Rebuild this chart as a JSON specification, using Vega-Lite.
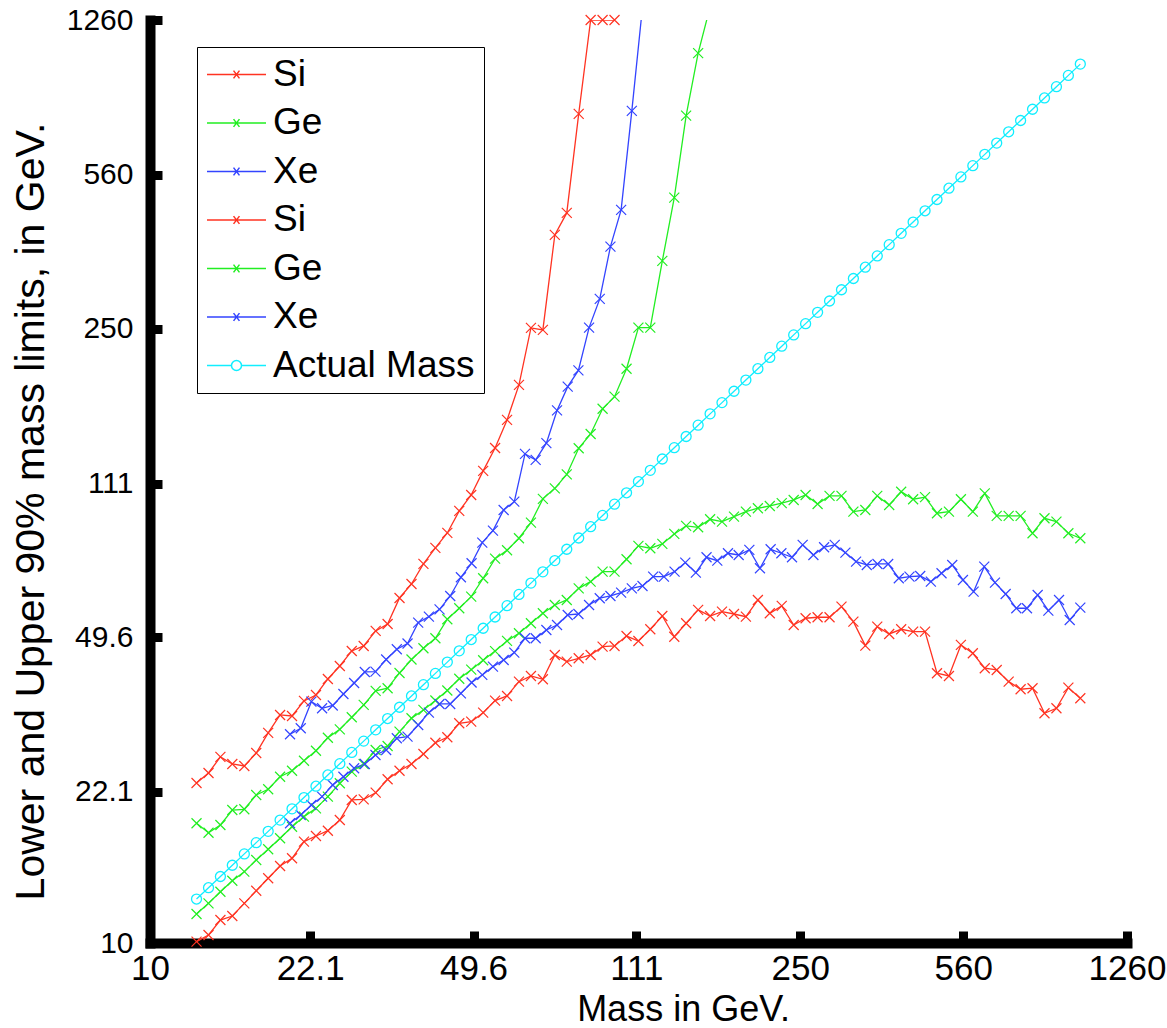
{
"$schema": "https://vega.github.io/schema/vega-lite/v6.json",
"width": 977, "height": 923,
"autosize": {"type": "none"},
"padding": {"left": 150, "top": 20, "right": 40, "bottom": 85},
"background": "white",
"config": {"view": {"stroke": null}, "font": "Liberation Sans"},
"datasets": {"d": [
{"s":"Si-1","m":12.59,"v":23.13},{"s":"Si-1","m":13.36,"v":24.37},{"s":"Si-1","m":14.17,"v":26.51},{"s":"Si-1","m":15.03,"v":25.55},{"s":"Si-1","m":15.95,"v":25.28},{"s":"Si-1","m":16.92,"v":27.06},{"s":"Si-1","m":17.95,"v":30.06},{"s":"Si-1","m":19.04,"v":33.03},{"s":"Si-1","m":20.2,"v":32.86},{"s":"Si-1","m":21.43,"v":35.55},
{"s":"Si-1","m":22.74,"v":36.68},{"s":"Si-1","m":24.12,"v":39.89},{"s":"Si-1","m":25.59,"v":42.7},{"s":"Si-1","m":27.15,"v":46.19},{"s":"Si-1","m":28.8,"v":47.42},{"s":"Si-1","m":30.56,"v":51.3},{"s":"Si-1","m":32.42,"v":53.21},{"s":"Si-1","m":34.39,"v":60.98},{"s":"Si-1","m":36.49,"v":65.61},{"s":"Si-1","m":38.71,"v":72.88},
{"s":"Si-1","m":41.07,"v":79.25},{"s":"Si-1","m":43.57,"v":85.73},{"s":"Si-1","m":46.22,"v":96.2},{"s":"Si-1","m":49.04,"v":104.6},{"s":"Si-1","m":52.03,"v":118.7},{"s":"Si-1","m":55.19,"v":133.8},{"s":"Si-1","m":58.56,"v":155},{"s":"Si-1","m":62.12,"v":186.2},{"s":"Si-1","m":65.91,"v":251},{"s":"Si-1","m":69.92,"v":248.4},
{"s":"Si-1","m":74.18,"v":408.7},{"s":"Si-1","m":78.7,"v":458.5},{"s":"Si-1","m":83.49,"v":770.3},{"s":"Si-1","m":88.57,"v":1260},{"s":"Si-1","m":93.97,"v":1260},{"s":"Si-1","m":99.69,"v":1260},

{"s":"Ge-1","m":12.59,"v":18.73},{"s":"Ge-1","m":13.36,"v":17.82},{"s":"Ge-1","m":14.17,"v":18.56},{"s":"Ge-1","m":15.03,"v":20.07},{"s":"Ge-1","m":15.95,"v":20.15},{"s":"Ge-1","m":16.92,"v":21.72},{"s":"Ge-1","m":17.95,"v":22.38},{"s":"Ge-1","m":19.04,"v":23.9},{"s":"Ge-1","m":20.2,"v":24.66},{"s":"Ge-1","m":21.43,"v":25.99},
{"s":"Ge-1","m":22.74,"v":27.39},{"s":"Ge-1","m":24.12,"v":29.32},{"s":"Ge-1","m":25.59,"v":30.64},{"s":"Ge-1","m":27.15,"v":32.64},{"s":"Ge-1","m":28.8,"v":34.81},{"s":"Ge-1","m":30.56,"v":37.46},{"s":"Ge-1","m":32.42,"v":38},{"s":"Ge-1","m":34.39,"v":41.16},{"s":"Ge-1","m":36.49,"v":44.18},{"s":"Ge-1","m":38.71,"v":46.86},
{"s":"Ge-1","m":41.07,"v":49.37},{"s":"Ge-1","m":43.57,"v":54.54},{"s":"Ge-1","m":46.22,"v":57.77},{"s":"Ge-1","m":49.04,"v":61.4},{"s":"Ge-1","m":52.03,"v":67.61},{"s":"Ge-1","m":55.19,"v":74.91},{"s":"Ge-1","m":58.56,"v":78.29},{"s":"Ge-1","m":62.12,"v":83.37},{"s":"Ge-1","m":65.91,"v":90.49},{"s":"Ge-1","m":69.92,"v":102.5},
{"s":"Ge-1","m":74.18,"v":108.3},{"s":"Ge-1","m":78.7,"v":116.5},{"s":"Ge-1","m":83.49,"v":133.6},{"s":"Ge-1","m":88.57,"v":144},{"s":"Ge-1","m":93.97,"v":164.3},{"s":"Ge-1","m":99.69,"v":175.1},{"s":"Ge-1","m":105.8,"v":202.7},{"s":"Ge-1","m":112.2,"v":251.4},{"s":"Ge-1","m":119,"v":251.4},{"s":"Ge-1","m":126.3,"v":356.6},
{"s":"Ge-1","m":134,"v":496.9},{"s":"Ge-1","m":142.1,"v":763.4},{"s":"Ge-1","m":150.8,"v":1059},{"s":"Ge-1","m":160,"v":1350},

{"s":"Xe-1","m":20,"v":29.85},{"s":"Xe-1","m":21.09,"v":30.81},{"s":"Xe-1","m":22.23,"v":35.41},{"s":"Xe-1","m":23.44,"v":34.21},{"s":"Xe-1","m":24.71,"v":34.71},{"s":"Xe-1","m":26.05,"v":36.87},{"s":"Xe-1","m":27.47,"v":39.06},{"s":"Xe-1","m":28.96,"v":41.38},{"s":"Xe-1","m":30.53,"v":41.44},{"s":"Xe-1","m":32.19,"v":44.18},
{"s":"Xe-1","m":33.93,"v":46.61},{"s":"Xe-1","m":35.78,"v":48.04},{"s":"Xe-1","m":37.72,"v":53.58},{"s":"Xe-1","m":39.77,"v":55.28},{"s":"Xe-1","m":41.93,"v":57.46},{"s":"Xe-1","m":44.2,"v":61.62},{"s":"Xe-1","m":46.6,"v":67.96},{"s":"Xe-1","m":49.13,"v":73.15},{"s":"Xe-1","m":51.8,"v":81.47},{"s":"Xe-1","m":54.61,"v":86.78},
{"s":"Xe-1","m":57.58,"v":96.69},{"s":"Xe-1","m":60.7,"v":101},{"s":"Xe-1","m":64,"v":129.7},{"s":"Xe-1","m":67.47,"v":125.7},{"s":"Xe-1","m":71.14,"v":137.2},{"s":"Xe-1","m":75,"v":162.9},{"s":"Xe-1","m":79.07,"v":184.5},{"s":"Xe-1","m":83.37,"v":200.9},{"s":"Xe-1","m":87.89,"v":251.4},{"s":"Xe-1","m":92.66,"v":292.2},
{"s":"Xe-1","m":97.69,"v":384.4},{"s":"Xe-1","m":103,"v":465.8},{"s":"Xe-1","m":108.6,"v":782.5},{"s":"Xe-1","m":114.5,"v":1350},

{"s":"Si-2","m":12.59,"v":10.07},{"s":"Si-2","m":13.36,"v":10.43},{"s":"Si-2","m":14.17,"v":11.28},{"s":"Si-2","m":15.03,"v":11.52},{"s":"Si-2","m":15.95,"v":12.31},{"s":"Si-2","m":16.92,"v":13.15},{"s":"Si-2","m":17.95,"v":14.04},{"s":"Si-2","m":19.04,"v":14.97},{"s":"Si-2","m":20.2,"v":15.59},{"s":"Si-2","m":21.43,"v":17.01},
{"s":"Si-2","m":22.74,"v":17.52},{"s":"Si-2","m":24.12,"v":18.01},{"s":"Si-2","m":25.59,"v":19.05},{"s":"Si-2","m":27.15,"v":21.16},{"s":"Si-2","m":28.8,"v":21.23},{"s":"Si-2","m":30.56,"v":21.98},{"s":"Si-2","m":32.42,"v":23.58},{"s":"Si-2","m":34.39,"v":24.66},{"s":"Si-2","m":36.49,"v":25.55},{"s":"Si-2","m":38.71,"v":26.92},
{"s":"Si-2","m":41.07,"v":28.56},{"s":"Si-2","m":43.57,"v":29.39},{"s":"Si-2","m":46.22,"v":31.62},{"s":"Si-2","m":49.04,"v":31.89},{"s":"Si-2","m":52.03,"v":33.43},{"s":"Si-2","m":55.19,"v":35.6},{"s":"Si-2","m":58.56,"v":36.49},{"s":"Si-2","m":62.12,"v":39.33},{"s":"Si-2","m":65.91,"v":40.52},{"s":"Si-2","m":69.92,"v":39.82},
{"s":"Si-2","m":74.18,"v":45.23},{"s":"Si-2","m":78.7,"v":43.67},{"s":"Si-2","m":83.49,"v":44.45},{"s":"Si-2","m":88.57,"v":45.23},{"s":"Si-2","m":93.97,"v":47.24},{"s":"Si-2","m":99.69,"v":47.42},{"s":"Si-2","m":105.8,"v":49.95},{"s":"Si-2","m":112.2,"v":48.66},{"s":"Si-2","m":119,"v":51.75},{"s":"Si-2","m":126.3,"v":55.48},
{"s":"Si-2","m":134,"v":49.77},{"s":"Si-2","m":142.1,"v":53.41},{"s":"Si-2","m":150.8,"v":57.28},{"s":"Si-2","m":160,"v":55.48},{"s":"Si-2","m":169.7,"v":56.75},{"s":"Si-2","m":180.1,"v":56.06},{"s":"Si-2","m":191,"v":55.28},{"s":"Si-2","m":202.7,"v":60.34},{"s":"Si-2","m":215,"v":56.27},{"s":"Si-2","m":228.1,"v":58.48},
{"s":"Si-2","m":242,"v":52.93},{"s":"Si-2","m":256.7,"v":54.83},{"s":"Si-2","m":272.4,"v":55.11},{"s":"Si-2","m":289,"v":55.11},{"s":"Si-2","m":306.6,"v":58.27},{"s":"Si-2","m":325.2,"v":53.86},{"s":"Si-2","m":345,"v":47.5},{"s":"Si-2","m":366,"v":52.46},{"s":"Si-2","m":388.3,"v":50.49},{"s":"Si-2","m":412,"v":51.75},
{"s":"Si-2","m":437.1,"v":51.11},{"s":"Si-2","m":463.7,"v":51.11},{"s":"Si-2","m":491.9,"v":41.1},{"s":"Si-2","m":521.9,"v":40.52},{"s":"Si-2","m":553.7,"v":47.68},{"s":"Si-2","m":587.4,"v":45.64},{"s":"Si-2","m":623.2,"v":42.19},{"s":"Si-2","m":661.1,"v":41.81},{"s":"Si-2","m":701.4,"v":39.33},{"s":"Si-2","m":744.1,"v":37.8},
{"s":"Si-2","m":789.4,"v":38},{"s":"Si-2","m":837.5,"v":33.33},{"s":"Si-2","m":888.5,"v":34.21},{"s":"Si-2","m":942.6,"v":38.11},{"s":"Si-2","m":1000,"v":36.05},

{"s":"Ge-2","m":12.59,"v":11.64},{"s":"Ge-2","m":13.36,"v":12.31},{"s":"Ge-2","m":14.17,"v":13.08},{"s":"Ge-2","m":15.03,"v":13.86},{"s":"Ge-2","m":15.95,"v":14.53},{"s":"Ge-2","m":16.92,"v":15.45},{"s":"Ge-2","m":17.95,"v":16.34},{"s":"Ge-2","m":19.04,"v":17.31},{"s":"Ge-2","m":20.2,"v":18.39},{"s":"Ge-2","m":21.43,"v":19.39},
{"s":"Ge-2","m":22.74,"v":20.25},{"s":"Ge-2","m":24.12,"v":21.53},{"s":"Ge-2","m":25.59,"v":23.09},{"s":"Ge-2","m":27.15,"v":24.54},{"s":"Ge-2","m":28.8,"v":25.55},{"s":"Ge-2","m":30.56,"v":27.49},{"s":"Ge-2","m":32.42,"v":28.07},{"s":"Ge-2","m":34.39,"v":30.26},{"s":"Ge-2","m":36.49,"v":32.47},{"s":"Ge-2","m":38.71,"v":33.91},
{"s":"Ge-2","m":41.07,"v":35.64},{"s":"Ge-2","m":43.57,"v":37.55},{"s":"Ge-2","m":46.22,"v":39.94},{"s":"Ge-2","m":49.04,"v":41.88},{"s":"Ge-2","m":52.03,"v":43.99},{"s":"Ge-2","m":55.19,"v":46.17},{"s":"Ge-2","m":58.56,"v":48.69},{"s":"Ge-2","m":62.12,"v":50.68},{"s":"Ge-2","m":65.91,"v":53.41},{"s":"Ge-2","m":69.92,"v":56.27},
{"s":"Ge-2","m":74.18,"v":58.77},{"s":"Ge-2","m":78.7,"v":60.34},{"s":"Ge-2","m":83.49,"v":64.14},{"s":"Ge-2","m":88.57,"v":66.41},{"s":"Ge-2","m":93.97,"v":69.98},{"s":"Ge-2","m":99.69,"v":69.98},{"s":"Ge-2","m":105.8,"v":74.67},{"s":"Ge-2","m":112.2,"v":80.1},{"s":"Ge-2","m":119,"v":79.12},{"s":"Ge-2","m":126.3,"v":80.95},
{"s":"Ge-2","m":134,"v":85.28},{"s":"Ge-2","m":142.1,"v":88.96},{"s":"Ge-2","m":150.8,"v":88.31},{"s":"Ge-2","m":160,"v":92.09},{"s":"Ge-2","m":169.7,"v":90.96},{"s":"Ge-2","m":180.1,"v":93.37},{"s":"Ge-2","m":191,"v":95.85},{"s":"Ge-2","m":202.7,"v":97.57},{"s":"Ge-2","m":215,"v":98.74},{"s":"Ge-2","m":228.1,"v":100.2},
{"s":"Ge-2","m":242,"v":101.9},{"s":"Ge-2","m":256.7,"v":104.6},{"s":"Ge-2","m":272.4,"v":99.79},{"s":"Ge-2","m":289,"v":104.1},{"s":"Ge-2","m":306.6,"v":104.1},{"s":"Ge-2","m":325.2,"v":95.85},{"s":"Ge-2","m":345,"v":96.69},{"s":"Ge-2","m":366,"v":104.1},{"s":"Ge-2","m":388.3,"v":99.27},{"s":"Ge-2","m":412,"v":106.4},
{"s":"Ge-2","m":437.1,"v":102.3},{"s":"Ge-2","m":463.7,"v":103.4},{"s":"Ge-2","m":491.9,"v":95.05},{"s":"Ge-2","m":521.9,"v":95.85},{"s":"Ge-2","m":553.7,"v":102.3},{"s":"Ge-2","m":587.4,"v":95.85},{"s":"Ge-2","m":623.2,"v":105.5},{"s":"Ge-2","m":661.1,"v":93.72},{"s":"Ge-2","m":701.4,"v":93.72},{"s":"Ge-2","m":744.1,"v":93.72},
{"s":"Ge-2","m":789.4,"v":85.59},{"s":"Ge-2","m":837.5,"v":92.58},{"s":"Ge-2","m":888.5,"v":90.96},{"s":"Ge-2","m":942.6,"v":85.59},{"s":"Ge-2","m":1000,"v":83.37},

{"s":"Xe-2","m":20,"v":18.73},{"s":"Xe-2","m":21.09,"v":19.56},{"s":"Xe-2","m":22.23,"v":20.61},{"s":"Xe-2","m":23.44,"v":21.53},{"s":"Xe-2","m":24.71,"v":22.89},{"s":"Xe-2","m":26.05,"v":23.9},{"s":"Xe-2","m":27.47,"v":24.98},{"s":"Xe-2","m":28.96,"v":25.55},{"s":"Xe-2","m":30.53,"v":26.78},{"s":"Xe-2","m":32.19,"v":27.49},
{"s":"Xe-2","m":33.93,"v":29.24},{"s":"Xe-2","m":35.78,"v":29.48},{"s":"Xe-2","m":37.72,"v":31.34},{"s":"Xe-2","m":39.77,"v":33.43},{"s":"Xe-2","m":41.93,"v":34.99},{"s":"Xe-2","m":44.2,"v":34.99},{"s":"Xe-2","m":46.6,"v":37},{"s":"Xe-2","m":49.13,"v":39.16},{"s":"Xe-2","m":51.8,"v":40.74},{"s":"Xe-2","m":54.61,"v":42.55},
{"s":"Xe-2","m":57.58,"v":44.06},{"s":"Xe-2","m":60.7,"v":45.79},{"s":"Xe-2","m":64,"v":49.37},{"s":"Xe-2","m":67.47,"v":49.37},{"s":"Xe-2","m":71.14,"v":51.56},{"s":"Xe-2","m":75,"v":52.93},{"s":"Xe-2","m":79.07,"v":55.78},{"s":"Xe-2","m":83.37,"v":56.06},{"s":"Xe-2","m":87.89,"v":58.77},{"s":"Xe-2","m":92.66,"v":60.89},
{"s":"Xe-2","m":97.69,"v":61.62},{"s":"Xe-2","m":103,"v":62.69},{"s":"Xe-2","m":108.6,"v":64.14},{"s":"Xe-2","m":114.5,"v":64.93},{"s":"Xe-2","m":120.7,"v":68.17},{"s":"Xe-2","m":127.3,"v":68.17},{"s":"Xe-2","m":134.2,"v":69.98},{"s":"Xe-2","m":141.5,"v":73.38},{"s":"Xe-2","m":149.1,"v":69.61},{"s":"Xe-2","m":157.2,"v":75.46},
{"s":"Xe-2","m":165.8,"v":74.13},{"s":"Xe-2","m":174.8,"v":77.07},{"s":"Xe-2","m":184.3,"v":76.38},{"s":"Xe-2","m":194.3,"v":78.42},{"s":"Xe-2","m":204.8,"v":71.24},{"s":"Xe-2","m":215.9,"v":78.7},{"s":"Xe-2","m":227.7,"v":77.07},{"s":"Xe-2","m":240,"v":75.46},{"s":"Xe-2","m":253,"v":80.53},{"s":"Xe-2","m":266.8,"v":76.38},
{"s":"Xe-2","m":281.3,"v":79.55},{"s":"Xe-2","m":296.5,"v":80.53},{"s":"Xe-2","m":312.6,"v":77.31},{"s":"Xe-2","m":329.6,"v":73.77},{"s":"Xe-2","m":347.5,"v":72.49},{"s":"Xe-2","m":366.4,"v":72.87},{"s":"Xe-2","m":386.3,"v":72.87},{"s":"Xe-2","m":407.2,"v":67.61},{"s":"Xe-2","m":429.3,"v":68.17},{"s":"Xe-2","m":452.7,"v":68.42},
{"s":"Xe-2","m":477.2,"v":66.41},{"s":"Xe-2","m":503.1,"v":69.39},{"s":"Xe-2","m":530.5,"v":72.49},{"s":"Xe-2","m":559.3,"v":67.01},{"s":"Xe-2","m":589.6,"v":63.03},{"s":"Xe-2","m":621.6,"v":71.85},{"s":"Xe-2","m":655.4,"v":66.07},{"s":"Xe-2","m":691,"v":62.27},{"s":"Xe-2","m":728.5,"v":57.77},{"s":"Xe-2","m":768,"v":57.77},
{"s":"Xe-2","m":809.7,"v":61.94},{"s":"Xe-2","m":853.7,"v":57.06},{"s":"Xe-2","m":900,"v":60.34},{"s":"Xe-2","m":948.9,"v":54.34},{"s":"Xe-2","m":1000,"v":57.96},

{"s":"Actual Mass","m":12.59,"v":12.59},{"s":"Actual Mass","m":13.36,"v":13.36},{"s":"Actual Mass","m":14.17,"v":14.17},{"s":"Actual Mass","m":15.03,"v":15.03},{"s":"Actual Mass","m":15.95,"v":15.95},{"s":"Actual Mass","m":16.92,"v":16.92},{"s":"Actual Mass","m":17.95,"v":17.95},{"s":"Actual Mass","m":19.04,"v":19.04},{"s":"Actual Mass","m":20.2,"v":20.2},{"s":"Actual Mass","m":21.43,"v":21.43},
{"s":"Actual Mass","m":22.74,"v":22.74},{"s":"Actual Mass","m":24.12,"v":24.12},{"s":"Actual Mass","m":25.59,"v":25.59},{"s":"Actual Mass","m":27.15,"v":27.15},{"s":"Actual Mass","m":28.8,"v":28.8},{"s":"Actual Mass","m":30.56,"v":30.56},{"s":"Actual Mass","m":32.42,"v":32.42},{"s":"Actual Mass","m":34.39,"v":34.39},{"s":"Actual Mass","m":36.49,"v":36.49},{"s":"Actual Mass","m":38.71,"v":38.71},
{"s":"Actual Mass","m":41.07,"v":41.07},{"s":"Actual Mass","m":43.57,"v":43.57},{"s":"Actual Mass","m":46.22,"v":46.22},{"s":"Actual Mass","m":49.04,"v":49.04},{"s":"Actual Mass","m":52.03,"v":52.03},{"s":"Actual Mass","m":55.19,"v":55.19},{"s":"Actual Mass","m":58.56,"v":58.56},{"s":"Actual Mass","m":62.12,"v":62.12},{"s":"Actual Mass","m":65.91,"v":65.91},{"s":"Actual Mass","m":69.92,"v":69.92},
{"s":"Actual Mass","m":74.18,"v":74.18},{"s":"Actual Mass","m":78.7,"v":78.7},{"s":"Actual Mass","m":83.49,"v":83.49},{"s":"Actual Mass","m":88.57,"v":88.57},{"s":"Actual Mass","m":93.97,"v":93.97},{"s":"Actual Mass","m":99.69,"v":99.69},{"s":"Actual Mass","m":105.8,"v":105.8},{"s":"Actual Mass","m":112.2,"v":112.2},{"s":"Actual Mass","m":119,"v":119},{"s":"Actual Mass","m":126.3,"v":126.3},
{"s":"Actual Mass","m":134,"v":134},{"s":"Actual Mass","m":142.1,"v":142.1},{"s":"Actual Mass","m":150.8,"v":150.8},{"s":"Actual Mass","m":160,"v":160},{"s":"Actual Mass","m":169.7,"v":169.7},{"s":"Actual Mass","m":180.1,"v":180.1},{"s":"Actual Mass","m":191,"v":191},{"s":"Actual Mass","m":202.7,"v":202.7},{"s":"Actual Mass","m":215,"v":215},{"s":"Actual Mass","m":228.1,"v":228.1},
{"s":"Actual Mass","m":242,"v":242},{"s":"Actual Mass","m":256.7,"v":256.7},{"s":"Actual Mass","m":272.4,"v":272.4},{"s":"Actual Mass","m":289,"v":289},{"s":"Actual Mass","m":306.6,"v":306.6},{"s":"Actual Mass","m":325.2,"v":325.2},{"s":"Actual Mass","m":345,"v":345},{"s":"Actual Mass","m":366,"v":366},{"s":"Actual Mass","m":388.3,"v":388.3},{"s":"Actual Mass","m":412,"v":412},
{"s":"Actual Mass","m":437.1,"v":437.1},{"s":"Actual Mass","m":463.7,"v":463.7},{"s":"Actual Mass","m":491.9,"v":491.9},{"s":"Actual Mass","m":521.9,"v":521.9},{"s":"Actual Mass","m":553.7,"v":553.7},{"s":"Actual Mass","m":587.4,"v":587.4},{"s":"Actual Mass","m":623.2,"v":623.2},{"s":"Actual Mass","m":661.1,"v":661.1},{"s":"Actual Mass","m":701.4,"v":701.4},{"s":"Actual Mass","m":744.1,"v":744.1},
{"s":"Actual Mass","m":789.4,"v":789.4},{"s":"Actual Mass","m":837.5,"v":837.5},{"s":"Actual Mass","m":888.5,"v":888.5},{"s":"Actual Mass","m":942.6,"v":942.6},{"s":"Actual Mass","m":1000,"v":1000}
]},
"data": {"name": "d"},
"encoding": {
  "x": {"field": "m", "type": "quantitative",
    "scale": {"type": "log", "domain": [10, 1260], "nice": false},
    "axis": {"values": [10, 22.1, 49.6, 111, 250, 560, 1260], "format": "~g", "grid": false,
      "domainColor": "black", "domainWidth": 10, "domainCap": "square",
      "tickColor": "black", "tickWidth": 9, "tickSize": -12,
      "labelFont": "Liberation Sans", "labelFontSize": 35, "labelColor": "black", "labelPadding": 48,
      "labelBaseline": "alphabetic", "labelFlush": false, "labelOverlap": false,
      "title": "Mass in GeV.", "titleFont": "Liberation Sans", "titleFontSize": 36, "titleFontWeight": "normal", "titleColor": "black",
      "titleX": 533, "titleY": 77, "titleAlign": "center", "titleBaseline": "alphabetic"}},
  "y": {"field": "v", "type": "quantitative",
    "scale": {"type": "log", "domain": [10, 1260], "nice": false},
    "axis": {"values": [10, 22.1, 49.6, 111, 250, 560, 1260], "format": "~g", "grid": false,
      "domainColor": "black", "domainWidth": 10, "domainCap": "square",
      "tickColor": "black", "tickWidth": 9, "tickSize": -12,
      "labelFont": "Liberation Sans", "labelFontSize": 30, "labelColor": "black", "labelPadding": 29,
      "labelBaseline": "middle", "labelAlign": "right", "labelFlush": false, "labelOverlap": false,
      "title": "Lower and Upper 90% mass limits, in GeV.", "titleFont": "Liberation Sans", "titleFontSize": 41, "titleFontWeight": "normal", "titleColor": "black",
      "titleAngle": -90, "titleX": -107, "titleY": 491, "titleAlign": "center", "titleBaseline": "alphabetic"}},
  "color": {"field": "s", "type": "nominal",
    "scale": {"domain": ["Si-1", "Ge-1", "Xe-1", "Si-2", "Ge-2", "Xe-2", "Actual Mass"],
              "range": ["#ff3322", "#22ee22", "#3344ff", "#ff3322", "#22ee22", "#3344ff", "#11eeff"]},
    "legend": {"title": null, "orient": "none", "legendX": 47, "legendY": 27,
      "labelFont": "Liberation Sans", "labelFontSize": 37, "labelColor": "black", "labelOffset": 6, "labelLimit": 500,
      "labelExpr": "datum.label == 'Actual Mass' ? datum.label : slice(datum.label, 0, 2)",
      "symbolSize": 3481, "symbolStrokeWidth": 1.5, "clipHeight": 37, "rowPadding": 10.5,
      "padding": 9, "strokeColor": "black", "fillColor": "white",
      "encode": {"symbols": {"update": {
        "shape": {"signal": "datum.value == 'Actual Mass' ? 'M-1,0L-0.17,0M0.17,0L1,0M-0.17,0A0.17,0.17 0 1,1 0.17,0A0.17,0.17 0 1,1 -0.17,0' : 'M-1,0L1,0M-0.1,-0.13L0.1,0.13M-0.1,0.13L0.1,-0.13'"},
        "fill": {"value": "transparent"}, "strokeWidth": {"value": 1.5}}}}}}
},
"layer": [
  {"mark": {"type": "line", "strokeWidth": 1.3, "clip": true}},
  {"transform": [{"filter": "datum.s != 'Actual Mass' && datum.v <= 1260"}],
   "mark": {"type": "point", "shape": "M-1,-1L1,1M-1,1L1,-1", "size": 100, "filled": false, "strokeWidth": 1.2, "opacity": 1}},
  {"transform": [{"filter": "datum.s == 'Actual Mass'"}],
   "mark": {"type": "point", "shape": "circle", "size": 100, "filled": false, "strokeWidth": 1.3, "opacity": 1}}
]
}
